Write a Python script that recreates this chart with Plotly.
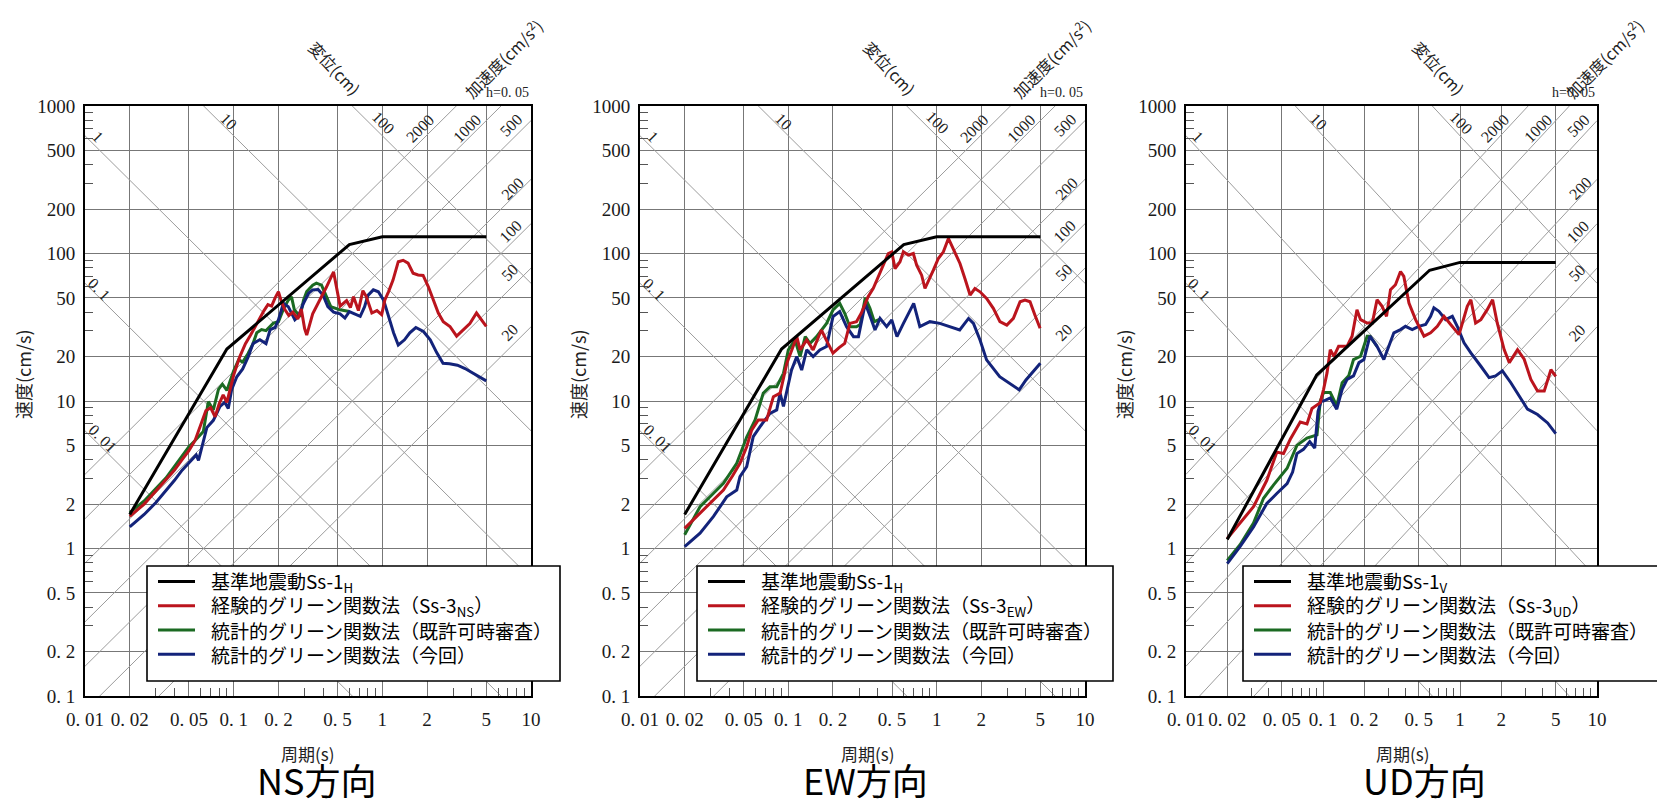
import numpy as np
import plotly.graph_objects as go

# ---------------- data (period T [s], velocity V [cm/s]) ----------------
H_BLACK_T = [0.02, 0.09, 0.6, 1.0, 5.0]
H_BLACK_V = [1.7, 22.5, 115, 130, 130]
V_BLACK_T = [0.02, 0.09, 0.6, 1.0, 5.0]
V_BLACK_V = [1.15, 15, 77, 87, 87]

NS_RED_T = [0.02,0.025,0.03,0.035,0.04,0.045,0.05,0.055,0.06,0.065,0.07,0.075,0.08,0.085,0.09,0.095,0.10,0.11,0.12,0.13,0.14,0.15,0.16,0.17,0.18,0.19,0.20,0.21,0.22,0.235,0.25,0.27,0.285,0.30,0.31,0.34,0.38,0.42,0.47,0.52,0.575,0.61,0.64,0.69,0.74,0.78,0.85,0.92,0.99,1.04,1.10,1.18,1.28,1.38,1.49,1.61,1.74,1.88,2.04,2.20,2.38,2.57,2.85,3.16,3.50,3.88,4.30,4.65,5.0]
NS_RED_V = [1.65,2.0,2.45,2.9,3.4,4.0,4.6,5.4,7.0,8.6,9.0,7.8,9.6,11.0,9.8,12.0,15.0,20.0,24.5,28.0,32.0,37.0,41.0,45.0,44.0,50.0,55.0,47.0,42.0,38.0,40.0,36.0,42.0,31.0,28.0,39.0,48.0,59.0,75.0,44.0,48.0,43.0,51.0,41.0,56.0,51.0,39.5,41.0,38.5,48.5,55.0,66.0,88.0,90.0,86.0,73.5,71.5,71.0,59.5,48.5,39.5,34.5,32.0,27.5,30.5,33.5,39.5,35.5,32.0]
NS_GREEN_T = [0.02,0.025,0.03,0.035,0.04,0.045,0.05,0.055,0.0625,0.0675,0.073,0.079,0.084,0.09,0.094,0.10,0.108,0.115,0.125,0.135,0.143,0.154,0.165,0.185,0.20,0.215,0.233,0.245,0.256,0.28,0.295,0.31,0.34,0.36,0.39,0.42,0.45,0.52,0.60]
NS_GREEN_V = [1.75,2.1,2.55,3.0,3.6,4.2,4.9,5.4,6.2,9.9,8.7,12.0,13.0,11.8,13.3,16.0,19.0,18.4,21.0,24.5,29.0,30.5,30.0,33.7,34.5,41.5,48.3,50.8,41.5,37.3,48.3,55.3,61.0,63.0,61.0,50.8,43.6,41.5,40.4]
NS_BLUE_T = [0.02,0.025,0.03,0.035,0.04,0.045,0.051,0.056,0.058,0.0625,0.066,0.073,0.081,0.087,0.092,0.097,0.105,0.115,0.125,0.135,0.15,0.165,0.176,0.19,0.20,0.216,0.233,0.258,0.272,0.295,0.32,0.34,0.37,0.40,0.43,0.47,0.52,0.56,0.60,0.65,0.71,0.76,0.80,0.87,0.94,1.02,1.10,1.19,1.28,1.41,1.53,1.68,1.89,2.10,2.32,2.56,2.83,3.20,3.60,4.30,5.0]
NS_BLUE_V = [1.4,1.7,2.05,2.45,2.9,3.4,3.9,4.3,3.96,5.4,6.6,7.4,9.2,9.8,8.9,12.0,14.6,16.5,19.8,24.5,26.0,24.5,30.5,31.5,35.5,46.0,43.6,35.5,37.3,46.0,54.0,56.7,57.0,52.0,43.6,40.0,39.0,36.5,40.4,39.0,37.5,43.6,52.0,56.7,55.0,48.3,37.3,29.0,24.0,26.0,29.0,31.5,29.6,26.0,21.3,18.0,17.9,17.5,16.6,15.0,13.7]

EW_RED_T = [0.02,0.0254,0.031,0.0365,0.042,0.0472,0.0524,0.0566,0.0627,0.0714,0.0793,0.088,0.0977,0.1085,0.114,0.12,0.133,0.147,0.167,0.18,0.20,0.22,0.24,0.26,0.288,0.31,0.345,0.374,0.41,0.472,0.498,0.524,0.566,0.596,0.644,0.696,0.733,0.792,0.834,0.878,0.95,1.026,1.11,1.2,1.295,1.436,1.55,1.68,1.81,1.96,2.17,2.41,2.67,2.97,3.29,3.65,3.94,4.26,4.6,4.98]
EW_RED_V = [1.37,1.73,2.1,2.49,3.1,3.78,4.9,6.35,7.43,7.43,10.7,11.3,18.0,23.4,27.3,22.2,25.9,22.2,30.3,26.0,21.1,23.0,24.6,33.6,34.5,39.3,50.9,58.0,71.3,100,102.6,79,87.8,102.6,97.5,100,83.4,71.3,57.9,64.3,77.1,92.5,102.6,126.5,108,85.6,67.7,52.3,57.9,55,49.6,42.5,34.5,32.7,36.3,47.1,48.3,47.1,38.2,31.1]
EW_GREEN_T = [0.02,0.0254,0.0313,0.0365,0.0449,0.0524,0.0596,0.0678,0.0752,0.0835,0.0927,0.10,0.111,0.12,0.13,0.14,0.155,0.181,0.20,0.222,0.24,0.26,0.288,0.305,0.33,0.355,0.38,0.415]
EW_GREEN_V = [1.24,1.92,2.37,2.77,3.78,5.7,7.4,11.3,12.5,12.5,15.4,22.2,25.9,20.0,27.3,24.6,27.3,33.6,41.4,45.9,39.3,31.9,31.9,33.0,50.0,42.5,34.5,35.9]
EW_BLUE_T = [0.02,0.0254,0.0313,0.0384,0.0449,0.0472,0.0524,0.058,0.0645,0.0752,0.0835,0.088,0.0927,0.105,0.114,0.123,0.133,0.147,0.163,0.181,0.20,0.222,0.247,0.275,0.297,0.33,0.357,0.384,0.415,0.46,0.498,0.54,0.597,0.70,0.77,0.90,1.05,1.23,1.43,1.64,1.77,1.96,2.17,2.66,3.1,3.6,4.0,4.86,5.0]
EW_BLUE_V = [1.03,1.27,1.65,2.24,2.49,3.07,3.59,5.73,6.7,8.25,8.7,11.3,9.2,16.2,20.0,16.2,22.2,20.0,22.2,23.4,37.3,40.4,31.9,27.3,27.3,45.9,37.3,30.3,36.3,31.9,35.4,27.3,33.6,45.9,31.9,34.5,33.6,31.9,30.3,36.3,33.6,25.9,19.0,14.6,13.2,11.9,13.9,17.6,18.0]

UD_RED_T = [0.02,0.0248,0.0311,0.0389,0.046,0.0515,0.0577,0.0682,0.0764,0.0831,0.0904,0.0955,0.101,0.107,0.113,0.12,0.13,0.15,0.163,0.177,0.188,0.21,0.229,0.248,0.27,0.291,0.311,0.338,0.368,0.389,0.424,0.474,0.546,0.61,0.683,0.764,0.855,0.984,1.13,1.2,1.3,1.42,1.58,1.73,1.87,2.1,2.29,2.63,2.94,3.29,3.68,4.12,4.61,5.0]
UD_RED_V = [1.17,1.48,1.92,2.9,4.5,4.4,5.5,7.2,7.0,8.9,9.4,9.75,12.0,15.5,22.3,20.1,23.5,23.5,27.5,41.6,35.6,33.8,33.8,48.6,43.8,37.5,56.9,61.4,75.5,69.9,46.2,35.6,27.5,29.0,32.1,37.5,33.0,28.2,43.8,48.6,33.8,35.6,41.6,48.6,33.8,22.3,18.2,22.3,19.2,14.0,11.7,11.7,16.3,14.7]
UD_GREEN_T = [0.02,0.0248,0.0311,0.0368,0.0436,0.0547,0.0645,0.0764,0.0904,0.0955,0.101,0.113,0.126,0.138,0.154,0.167,0.188,0.21,0.22,0.248]
UD_GREEN_V = [0.83,1.06,1.49,2.19,2.7,3.5,5.0,5.6,5.9,10.0,11.4,11.4,9.25,13.3,14.8,19.1,20.1,27.5,27.5,23.5]
UD_BLUE_T = [0.02,0.0248,0.0311,0.0389,0.046,0.0547,0.06,0.0645,0.072,0.08,0.087,0.092,0.097,0.101,0.113,0.126,0.138,0.15,0.167,0.183,0.199,0.22,0.248,0.278,0.329,0.368,0.40,0.448,0.50,0.561,0.61,0.645,0.702,0.785,0.879,0.955,1.07,1.2,1.42,1.63,1.82,2.04,2.35,2.78,3.11,3.68,4.36,5.0]
UD_BLUE_V = [0.79,1.03,1.4,2.02,2.36,2.75,3.3,4.4,4.7,5.3,4.8,8.5,10.0,10.0,10.5,8.8,12.0,14.0,14.8,18.2,19.1,27.5,23.5,19.1,29.0,30.5,32.1,30.5,32.1,33.0,37.5,42.8,40.6,35.6,37.5,32.1,24.8,21.2,17.2,14.4,14.8,16.0,13.3,10.3,8.8,8.1,7.1,6.0]

# legend names
LEG_BLACK = ["基準地震動Ss-1<sub>H</sub>", "基準地震動Ss-1<sub>H</sub>", "基準地震動Ss-1<sub>V</sub>"]
LEG_RED = ["経験的グリーン関数法（Ss-3<sub>NS</sub>）", "経験的グリーン関数法（Ss-3<sub>EW</sub>）", "経験的グリーン関数法（Ss-3<sub>UD</sub>）"]
LEG_GREEN = "統計的グリーン関数法（既許可時審査）"
LEG_BLUE = "統計的グリーン関数法（今回）"
PANEL_NAMES = ["NS方向", "EW方向", "UD方向"]

# axes ticks
X_TICKS = [0.01, 0.02, 0.05, 0.1, 0.2, 0.5, 1, 2, 5, 10]
X_TICKTEXT = ["0. 01", "0. 02", "0. 05", "0. 1", "0. 2", "0. 5", "1", "2", "5", "10"]
Y_TICKS = [0.1, 0.2, 0.5, 1, 2, 5, 10, 20, 50, 100, 200, 500, 1000]
Y_TICKTEXT = ["0. 1", "0. 2", "0. 5", "1", "2", "5", "10", "20", "50", "100", "200", "500", "1000"]
MINOR_MULT = [3, 4, 6, 7, 8, 9]

# tripartite grid values
DISP_LINES = [0.01, 0.1, 1, 10, 100]             # cm
ACC_LINES = [20, 50, 100, 200, 500, 1000, 2000]  # cm/s^2
DISP_LABELS = [("1", 0.0122, 620), ("10", 0.093, 790), ("100", 1.01, 767),
               ("0. 1", 0.0125, 57), ("0. 01", 0.0132, 5.6)]
ACC_LABELS = [("2000", 1.79, 705), ("1000", 3.71, 705), ("500", 7.3, 740),
              ("200", 7.5, 278), ("100", 7.3, 140), ("50", 7.2, 74), ("20", 7.2, 29)]

# ---------------- figure ----------------
W, H = 1665, 799
OFF = 8  # page body margin of the html page
def px(x): return (x - OFF) / W
def py(y): return (H - (y - OFF)) / H

PLOT_LEFT = [85, 640, 1186]
PLOT_RIGHT = [531, 1085, 1597]
PLOT_TOP, PLOT_BOTTOM = 106, 696

RED = "#bb141d"
GREEN = "#1b6a22"
BLUE = "#13237a"
GRID = "#777777"
DIAG = "#9c9c9c"
SERIF = "Liberation Serif, DejaVu Serif, serif"
CJK = "Noto Sans CJK JP, Noto Sans, sans-serif"

series = [
    (H_BLACK_T, H_BLACK_V, NS_RED_T, NS_RED_V, NS_GREEN_T, NS_GREEN_V, NS_BLUE_T, NS_BLUE_V),
    (H_BLACK_T, H_BLACK_V, EW_RED_T, EW_RED_V, EW_GREEN_T, EW_GREEN_V, EW_BLUE_T, EW_BLUE_V),
    (V_BLACK_T, V_BLACK_V, UD_RED_T, UD_RED_V, UD_GREEN_T, UD_GREEN_V, UD_BLUE_T, UD_BLUE_V),
]
LEGEND_LEFT = [147, 697, 1243]
LEGEND_RIGHT = [560, 1113, 1658]
LEGEND_TOP, LEGEND_BOTTOM = 566, 681
LEGEND_ROWS = [581.5, 605.8, 630.0, 654.3]

fig = go.Figure()
minor_x = [m * 10.0 ** e for e in (-2, -1, 0) for m in MINOR_MULT]
minor_y = [m * 10.0 ** e for e in (-1, 0, 1, 2) for m in MINOR_MULT]
t_span = np.array([0.01, 10.0])

annotations = []
shapes = []
for i in range(3):
    xr = "x" if i == 0 else f"x{i+1}"
    yr = "y" if i == 0 else f"y{i+1}"
    # diagonal grid
    for d in DISP_LINES:
        fig.add_trace(go.Scatter(x=t_span, y=2 * np.pi * d / t_span, mode="lines",
                                 line=dict(color=DIAG, width=1), hoverinfo="skip",
                                 showlegend=False, xaxis=xr, yaxis=yr))
    for a in ACC_LINES:
        fig.add_trace(go.Scatter(x=t_span, y=a * t_span / (2 * np.pi), mode="lines",
                                 line=dict(color=DIAG, width=1), hoverinfo="skip",
                                 showlegend=False, xaxis=xr, yaxis=yr))
    bt, bv, rt, rv, gt, gv, ut, uv = series[i]
    entries = [
        (gt, gv, LEG_GREEN, GREEN),
        (ut, uv, LEG_BLUE, BLUE),
        (rt, rv, LEG_RED[i], RED),
        (bt, bv, LEG_BLACK[i], "black"),
    ]
    for t, v, name, col in entries:
        fig.add_trace(go.Scatter(x=t, y=v, mode="lines", name=name, showlegend=False,
                                 line=dict(color=col, width=3), xaxis=xr, yaxis=yr))

    dom_x = [px(PLOT_LEFT[i]), px(PLOT_RIGHT[i])]
    dom_y = [py(PLOT_BOTTOM), py(PLOT_TOP)]
    xkey = "xaxis" if i == 0 else f"xaxis{i+1}"
    ykey = "yaxis" if i == 0 else f"yaxis{i+1}"
    fig.update_layout(**{
        xkey: dict(type="log", range=[-2, 1], domain=dom_x, anchor=yr,
                   tickmode="array", tickvals=X_TICKS, ticktext=X_TICKTEXT, tickangle=0,
                   showgrid=True, gridcolor=GRID, gridwidth=1,
                   showline=True, linecolor="black", linewidth=2, mirror=True,
                   ticks="", ticklabelstandoff=5,
                   tickfont=dict(family=SERIF, size=19, color="#1a1a1a"),
                   minor=dict(tickmode="array", tickvals=minor_x, ticks="inside", ticklen=8,
                              tickcolor="#555", tickwidth=1, showgrid=False),
                   zeroline=False, fixedrange=True, automargin=False),
        ykey: dict(type="log", range=[-1, 3], domain=dom_y, anchor=xr,
                   tickmode="array", tickvals=Y_TICKS, ticktext=Y_TICKTEXT, tickangle=0,
                   showgrid=True, gridcolor=GRID, gridwidth=1,
                   showline=True, linecolor="black", linewidth=2, mirror=True,
                   ticks="", ticklabelstandoff=4,
                   tickfont=dict(family=SERIF, size=19, color="#1a1a1a"),
                   minor=dict(tickmode="array", tickvals=minor_y, ticks="inside", ticklen=8,
                              tickcolor="#555", tickwidth=1, showgrid=False),
                   zeroline=False, fixedrange=True, automargin=False),
    })

    # legend box drawn in figure space
    L, R = LEGEND_LEFT[i], LEGEND_RIGHT[i]
    shapes.append(dict(type="rect", xref="paper", yref="paper", layer="above",
                       x0=px(L), x1=px(R), y0=py(LEGEND_BOTTOM), y1=py(LEGEND_TOP),
                       line=dict(color="black", width=1.6), fillcolor="white"))
    for (t, v, name, col), ry in zip([entries[3], entries[2], entries[0], entries[1]], LEGEND_ROWS):
        shapes.append(dict(type="line", xref="paper", yref="paper", layer="above",
                           x0=px(L + 11), x1=px(L + 48), y0=py(ry), y1=py(ry),
                           line=dict(color=col, width=3)))
        annotations.append(dict(x=px(L + 62), y=py(ry), xref="paper", yref="paper", text=name,
                                xanchor="left", yanchor="middle", showarrow=False,
                                font=dict(family=CJK, size=19, color="black")))

    # diagonal labels
    for txt, t, v in DISP_LABELS:
        annotations.append(dict(x=np.log10(t), y=np.log10(v), xref=xr, yref=yr, text=txt,
                                showarrow=False, textangle=45, xanchor="center", yanchor="middle",
                                font=dict(family=SERIF, size=16, color="#222")))
    for txt, t, v in ACC_LABELS:
        annotations.append(dict(x=np.log10(t), y=np.log10(v), xref=xr, yref=yr, text=txt,
                                showarrow=False, textangle=-45, xanchor="center", yanchor="middle",
                                font=dict(family=SERIF, size=16, color="#222")))

    left, right = PLOT_LEFT[i], PLOT_RIGHT[i]
    annotations.append(dict(x=px(right), y=py(102), xref="paper", yref="paper", text="h=0. 05",
                            xanchor="right", yanchor="bottom", showarrow=False,
                            font=dict(family=SERIF, size=14, color="#222")))
    disp_x = [335, 890, 1439][i]
    acc_x = [503, 1051, 1604][i]
    annotations.append(dict(x=px(disp_x), y=py(68), xref="paper", yref="paper", text="変位(cm)",
                            showarrow=False, textangle=47, xanchor="center", yanchor="middle",
                            font=dict(family=CJK, size=16, color="#222")))
    annotations.append(dict(x=px(acc_x), y=py(58), xref="paper", yref="paper",
                            text="加速度(cm/s<sup>2</sup>)", showarrow=False, textangle=-45,
                            xanchor="center", yanchor="middle",
                            font=dict(family=CJK, size=16, color="#222")))
    annotations.append(dict(x=px(left - 62), y=py(374), xref="paper", yref="paper",
                            text="速度(cm/s)", showarrow=False, textangle=-90,
                            xanchor="center", yanchor="middle",
                            font=dict(family=CJK, size=18, color="#222")))
    annotations.append(dict(x=px([307, 867, 1402][i]), y=py(753), xref="paper", yref="paper",
                            text="周期(s)", showarrow=False, xanchor="center", yanchor="middle",
                            font=dict(family=CJK, size=17, color="#222")))
    annotations.append(dict(x=px([316, 865, 1424][i]), y=py(779), xref="paper", yref="paper",
                            text=PANEL_NAMES[i], showarrow=False, xanchor="center", yanchor="middle",
                            font=dict(family=CJK, size=36, color="black")))

fig.update_layout(width=W, height=H, margin=dict(l=0, r=0, t=0, b=0, autoexpand=False),
                  paper_bgcolor="white", plot_bgcolor="white", showlegend=False,
                  annotations=annotations, shapes=shapes, hovermode=False)
fig.write_html("out.html")
